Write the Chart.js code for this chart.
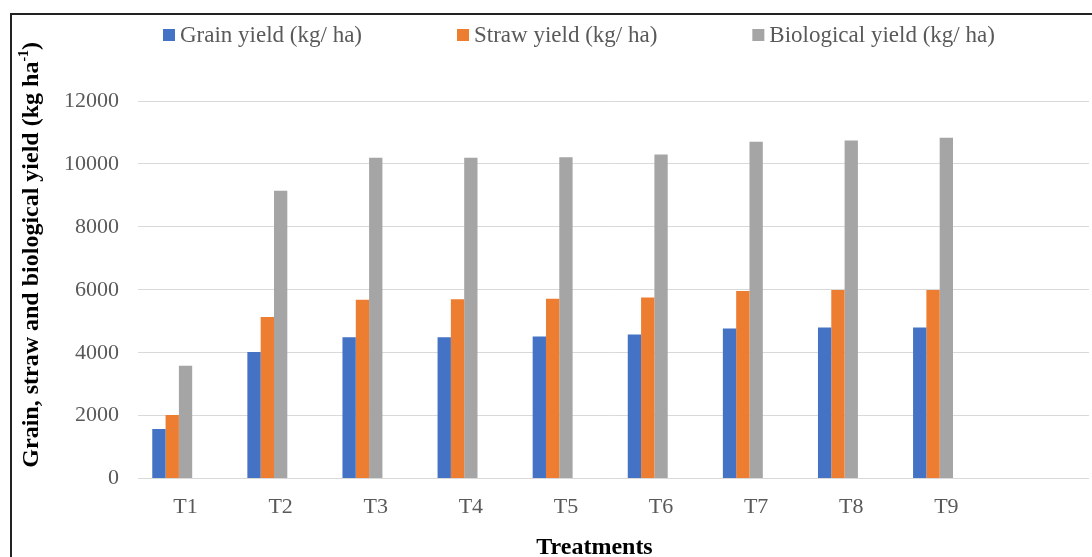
<!DOCTYPE html>
<html>
<head>
<meta charset="utf-8">
<script src="https://cdn.jsdelivr.net/npm/chart.js@4.4.0/dist/chart.umd.min.js"></script>
<style>
  html, body { margin: 0; padding: 0; background: #fff; overflow: hidden; }
  #wrap { position: relative; width: 1092px; height: 557px; overflow: hidden; }
  #frame { position: absolute; left: 10px; top: 13px; width: 1200px; height: 700px;
           border-left: 2px solid #222; border-top: 2px solid #222; }
  canvas { position: absolute; left: 0; top: 0; }
</style>
</head>
<body>
<div id="wrap">
  <div id="frame"></div>
  <canvas id="chart" width="1092" height="557"></canvas>
</div>
<script>
// values (kg/ha)
const treatments = ['T1', 'T2', 'T3', 'T4', 'T5', 'T6', 'T7', 'T8', 'T9', ''];
const grainYield = [1577, 4022, 4490, 4490, 4513, 4577, 4768, 4800, 4800];
const strawYield = [2023, 5139, 5680, 5700, 5713, 5757, 5959, 5991, 5991];
const biologicalYield = [3587, 9151, 10200, 10200, 10214, 10300, 10705, 10747, 10833];
const yTicks = [0, 2000, 4000, 6000, 8000, 10000, 12000];

const seriesNames = ['Grain yield (kg/ ha)', 'Straw yield (kg/ ha)', 'Biological yield (kg/ ha)'];
const seriesColors = ['#4472C4', '#ED7D31', '#A5A5A5'];

const yTitle = 'Grain, straw and biological yield (kg ha';
const yTitleSup = '-1';
const xTitle = 'Treatments';

const serif = '"Liberation Serif", "Times New Roman", serif';

// legend + axis titles drawn by hand so they can sit where the figure has them
const titlesAndLegend = {
  id: 'titlesAndLegend',
  afterDraw(chart) {
    const ctx = chart.ctx;
    const area = chart.chartArea;
    ctx.save();

    // legend row
    ctx.font = '23px ' + serif;
    ctx.textBaseline = 'middle';
    let x = area.left + 25;
    const ly = 35;
    chart.data.datasets.forEach(ds => {
      if (!ds.label) return;
      ctx.fillStyle = ds.backgroundColor;
      ctx.fillRect(x, ly - 6, 12, 12);
      ctx.fillStyle = '#595959';
      ctx.textAlign = 'left';
      ctx.fillText(ds.label, x + 17, ly + 1);
      x += 17 + ctx.measureText(ds.label).width + 95;
    });

    // y title, rotated, with superscript
    ctx.fillStyle = '#000';
    ctx.translate(32, (area.top + area.bottom) / 2 - 35);
    ctx.rotate(-Math.PI / 2);
    ctx.font = 'bold 24px ' + serif;
    const w1 = ctx.measureText(yTitle).width;
    ctx.font = 'bold 14px ' + serif;
    const w2 = ctx.measureText(yTitleSup).width;
    ctx.font = 'bold 24px ' + serif;
    const w3 = ctx.measureText(')').width;
    let sx = -(w1 + w2 + w3) / 2;
    ctx.textAlign = 'left';
    ctx.textBaseline = 'middle';
    ctx.fillText(yTitle, sx, 0);
    ctx.font = 'bold 14px ' + serif;
    ctx.fillText(yTitleSup, sx + w1, -8);
    ctx.font = 'bold 24px ' + serif;
    ctx.fillText(')', sx + w1 + w2, 0);
    ctx.setTransform(1, 0, 0, 1, 0, 0);

    // x title
    ctx.font = 'bold 24px ' + serif;
    ctx.textAlign = 'center';
    ctx.textBaseline = 'alphabetic';
    ctx.fillText(xTitle, (area.left + area.right) / 2 - 19, 554);

    ctx.restore();
  }
};

new Chart(document.getElementById('chart'), {
  type: 'bar',
  data: {
    labels: treatments,
    datasets: [
      { label: seriesNames[0], data: grainYield, backgroundColor: seriesColors[0] },
      { label: seriesNames[1], data: strawYield, backgroundColor: seriesColors[1] },
      { label: seriesNames[2], data: biologicalYield, backgroundColor: seriesColors[2] },
      // two empty series slots, as in the source sheet (keeps bars left of the tick label)
      { label: '', data: [] },
      { label: '', data: [] }
    ]
  },
  options: {
    responsive: false,
    animation: false,
    devicePixelRatio: 1,
    layout: { padding: { top: 101, right: 3, bottom: 30, left: 0 } },
    datasets: { bar: { categoryPercentage: 0.70, barPercentage: 1.0 } },
    plugins: {
      legend: { display: false },
      tooltip: { enabled: false }
    },
    scales: {
      x: {
        grid: { display: false },
        border: { display: false },
        ticks: { color: '#595959', font: { family: serif, size: 22 }, padding: 7, maxRotation: 0 }
      },
      y: {
        min: 0,
        max: 12000,
        afterBuildTicks: s => { s.ticks = yTicks.map(v => ({ value: v })); },
        afterFit: s => { s.width = 138; },
        grid: { color: '#D9D9D9', lineWidth: 1, drawTicks: false },
        border: { display: false },
        ticks: { color: '#595959', font: { family: serif, size: 22 }, padding: 19,
                 callback: v => String(v) }
      }
    }
  },
  plugins: [titlesAndLegend]
});
</script>
</body>
</html>
